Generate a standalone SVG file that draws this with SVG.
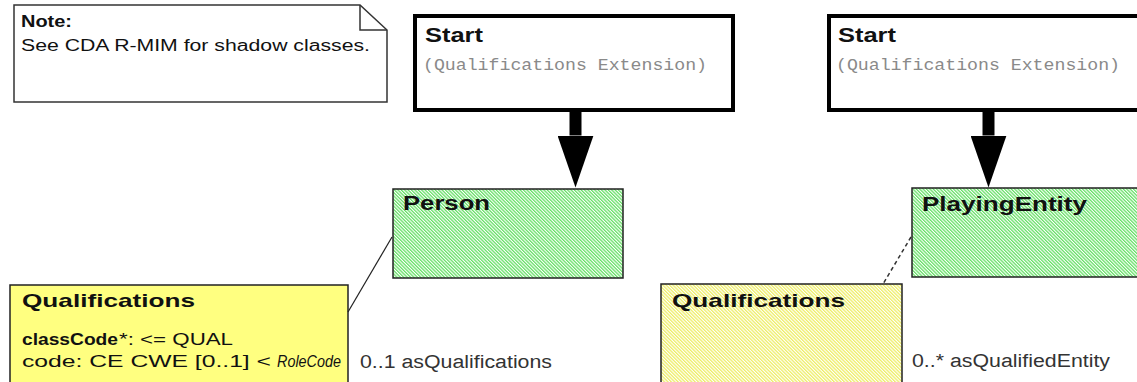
<svg xmlns="http://www.w3.org/2000/svg" width="1137" height="382" viewBox="0 0 1137 382">
<style>
.bg{fill:#ffffff}
.start{fill:#ffffff;stroke:#000;stroke-width:4}
.cls{stroke:#222;stroke-width:1.5}
.note{fill:#ffffff;stroke:#333;stroke-width:1.5}
.fold{fill:none;stroke:#333;stroke-width:1.5}
.t{font-family:"Liberation Sans",Arial,sans-serif;fill:#111}
.b{font-weight:bold}
.mono{font-family:"Liberation Mono","Courier New",monospace;fill:#8a8a8a}
.lbl{font-family:"Liberation Sans",Arial,sans-serif;fill:#333}
.con{stroke:#222;stroke-width:1.2;fill:none}
.dash{stroke:#333;stroke-width:1.5;stroke-dasharray:4,3}
.big{stroke:#000;stroke-width:12;fill:none}
</style>
<defs>
<pattern id="hg" patternUnits="userSpaceOnUse" width="2.4" height="10" patternTransform="rotate(-45)">
<rect width="2.4" height="10" fill="#ffffff"/>
<rect width="1.3" height="10" fill="#66e066"/>
</pattern>
<pattern id="hy" patternUnits="userSpaceOnUse" width="2.4" height="10" patternTransform="rotate(-45)">
<rect width="2.4" height="10" fill="#ffffff"/>
<rect width="1.3" height="10" fill="#eeee66"/>
</pattern>
<marker id="ah" viewBox="0 0 52 36" markerWidth="52" markerHeight="36" refX="0" refY="18" orient="auto" markerUnits="userSpaceOnUse">
<path d="M0,0 L52,18 L0,36 Z" fill="#000"/>
</marker>
</defs>
<rect class="bg" x="0" y="0" width="1137" height="382"/>

<g id="note">
<path class="note" d="M14,5 H360 L387,30 V102 H14 Z"/>
<path class="fold" d="M360,5 V30 H387"/>
<text class="t b" x="21" y="27" font-size="17" textLength="51" lengthAdjust="spacingAndGlyphs">Note:</text>
<text class="t" x="21" y="51" font-size="16" textLength="349" lengthAdjust="spacingAndGlyphs" fill="#222">See CDA R-MIM for shadow classes.</text>
</g>

<g id="start1">
<rect class="start" x="415" y="16" width="318" height="94"/>
<text class="t b" x="425" y="42" font-size="20" textLength="58" lengthAdjust="spacingAndGlyphs">Start</text>
<text class="mono" x="423" y="70" font-size="16" textLength="284" lengthAdjust="spacingAndGlyphs">(Qualifications Extension)</text>
</g>

<g id="start2">
<rect class="start" x="829" y="16" width="400" height="94"/>
<text class="t b" x="838" y="42" font-size="20" textLength="58" lengthAdjust="spacingAndGlyphs">Start</text>
<text class="mono" x="836" y="70" font-size="16" textLength="284" lengthAdjust="spacingAndGlyphs">(Qualifications Extension)</text>
</g>

<g id="person">
<rect class="cls" x="393" y="189" width="230" height="89" fill="url(#hg)"/>
<text class="t b" x="403" y="210" font-size="20" textLength="87" lengthAdjust="spacingAndGlyphs">Person</text>
</g>

<g id="playingEntity">
<rect class="cls" x="912" y="188" width="300" height="89" fill="url(#hg)"/>
<text class="t b" x="922" y="211" font-size="20" textLength="165" lengthAdjust="spacingAndGlyphs">PlayingEntity</text>
</g>

<g id="qualifications1">
<rect class="cls" x="10" y="285" width="338" height="120" fill="#ffff80"/>
<text class="t b" x="22" y="307" font-size="19" textLength="173" lengthAdjust="spacingAndGlyphs">Qualifications</text>
<text class="t b" x="22" y="345" font-size="16" textLength="96" lengthAdjust="spacingAndGlyphs">classCode</text>
<text class="t" x="119" y="345" font-size="16" textLength="114" lengthAdjust="spacingAndGlyphs">*: &lt;= QUAL</text>
<text class="t" x="22" y="367" font-size="16" textLength="249" lengthAdjust="spacingAndGlyphs">code: CE CWE [0..1] &lt;</text>
<text class="t" x="277" y="367" font-size="16" font-style="italic" textLength="64" lengthAdjust="spacingAndGlyphs">RoleCode</text>
</g>

<g id="qualifications2">
<rect class="cls" x="661" y="284" width="241" height="120" fill="url(#hy)"/>
<text class="t b" x="672" y="307" font-size="19" textLength="173" lengthAdjust="spacingAndGlyphs">Qualifications</text>
</g>

<g id="connectors">
<line class="big" x1="575.5" y1="112" x2="575.5" y2="135.5" marker-end="url(#ah)"/>
<line class="big" x1="988.5" y1="112" x2="988.5" y2="135.5" marker-end="url(#ah)"/>
<line class="con" x1="392" y1="237" x2="348" y2="312"/>
<line class="con dash" x1="911" y1="237" x2="883" y2="284"/>
<text class="lbl" x="360" y="368" font-size="18" textLength="192" lengthAdjust="spacingAndGlyphs">0..1 asQualifications</text>
<text class="lbl" x="912" y="367" font-size="18" textLength="198" lengthAdjust="spacingAndGlyphs">0..* asQualifiedEntity</text>
</g>
</svg>
